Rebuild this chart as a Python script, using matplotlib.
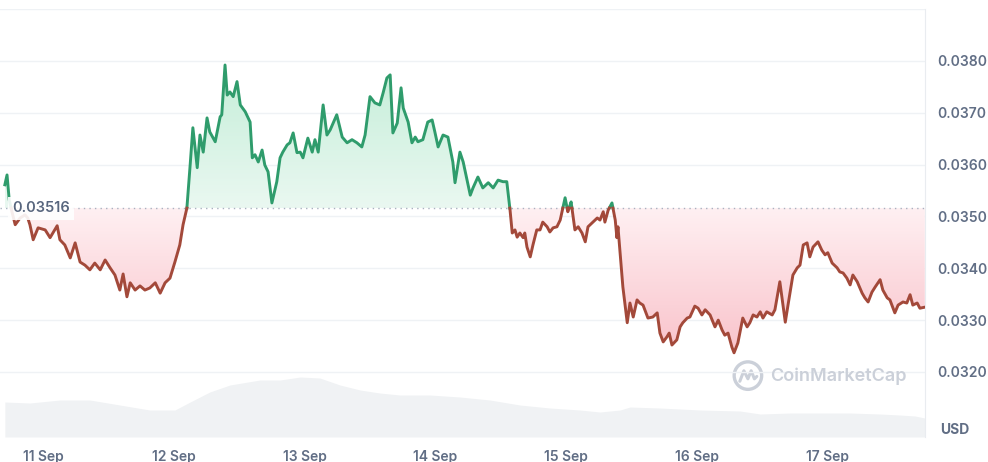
import numpy as np
import matplotlib.pyplot as plt
from matplotlib.colors import LinearSegmentedColormap
from matplotlib.patches import Circle

plt.rcParams['font.family'] = ['Inter', 'DejaVu Sans']

# price data: hours since 11 Sep 00:00 and price in USD
hours = [-7.0, -6.6, -6.2, -5.7, -5.1, -4.2, -3.3, -2.8, -2.4, -1.8, -0.9, 0.4, 1.3, 2.6, 3.1,
         4.0, 5.0, 5.9, 6.8, 7.7, 8.6, 9.5, 10.5, 11.4, 12.3, 13.2, 14.1, 14.7, 15.4, 16.0,
         16.9, 17.8, 18.7, 19.6, 20.6, 21.5, 22.4, 23.3, 24.2, 25.1, 25.7, 26.4, 27.0, 27.5,
         28.3, 28.8, 29.4, 30.1, 30.6, 31.6, 32.5, 32.8, 33.4, 33.8, 34.3, 34.9, 35.6, 36.2,
         37.1, 38.0, 38.4, 38.9, 39.5, 40.2, 40.7, 41.3, 42.0, 42.9, 43.5, 44.0, 44.8, 45.3,
         45.9, 46.6, 47.2, 47.7, 48.6, 49.4, 49.9, 50.5, 51.4, 52.1, 52.7, 53.9, 54.9, 55.8,
         56.7, 57.6, 58.5, 59.1, 60.0, 60.9, 61.8, 62.4, 63.1, 63.7, 64.2, 65.0, 65.7, 66.1,
         67.0, 67.7, 68.3, 68.8, 69.7, 70.6, 71.4, 71.9, 72.5, 73.4, 74.3, 75.2, 75.6, 76.5,
         77.1, 77.8, 78.4, 78.9, 79.8, 80.7, 81.7, 82.6, 83.5, 84.4, 85.1, 85.7, 86.1, 86.6,
         87.0, 87.5, 88.1, 88.4, 88.8, 89.4, 89.9, 90.6, 91.2, 91.7, 92.5, 93.0, 93.6, 94.3,
         94.9, 95.8, 96.3, 96.9, 97.6, 98.2, 98.9, 99.5, 100.0, 100.7, 101.7, 102.2, 102.8,
         103.1, 103.7, 104.4, 105.0, 105.3, 105.5, 106.1, 106.4, 107.2, 107.7, 108.3, 109.0,
         109.5, 110.1, 111.0, 111.9, 112.7, 113.2, 113.8, 114.5, 114.9, 115.4, 116.3, 116.9,
         117.4, 118.2, 118.7, 119.6, 120.2, 120.9, 121.5, 122.4, 123.3, 123.9, 124.6, 125.1,
         125.7, 126.4, 126.8, 127.5, 128.4, 129.2, 129.7, 130.3, 131.0, 131.6, 132.1, 132.8,
         133.8, 134.3, 135.2, 136.2, 136.7, 137.6, 138.4, 138.9, 139.5, 140.2, 140.7, 141.3,
         142.2, 142.9, 143.5, 144.0, 144.8, 145.7, 146.2, 146.8, 147.5, 148.1, 148.6, 149.4,
         150.3, 150.8, 151.4, 152.1, 152.7, 153.6, 154.1, 154.9, 155.4, 156.3, 156.9, 157.8,
         158.5, 159.1, 159.6, 160.4, 160.9, 161.8]
prices = [0.03561, 0.03580, 0.03532, 0.03509, 0.03484, 0.03497, 0.03503, 0.03497, 0.03484,
          0.03455, 0.03478, 0.03474, 0.03459, 0.03482, 0.03455, 0.03445, 0.03420, 0.03449,
          0.03412, 0.03406, 0.03397, 0.03410, 0.03397, 0.03416, 0.03401, 0.03387, 0.03358,
          0.03389, 0.03345, 0.03372, 0.03358, 0.03366, 0.03358, 0.03362, 0.03372, 0.03352,
          0.03372, 0.03381, 0.03412, 0.03445, 0.03484, 0.03516, 0.03599, 0.03671, 0.03594,
          0.03657, 0.03624, 0.03690, 0.03663, 0.03644, 0.03692, 0.03696, 0.03792, 0.03734,
          0.03740, 0.03731, 0.03760, 0.03715, 0.03702, 0.03682, 0.03613, 0.03619, 0.03605,
          0.03628, 0.03599, 0.03586, 0.03526, 0.03567, 0.03613, 0.03624, 0.03638, 0.03642,
          0.03661, 0.03623, 0.03624, 0.03613, 0.03651, 0.03624, 0.03648, 0.03624, 0.03715,
          0.03657, 0.03667, 0.03696, 0.03653, 0.03642, 0.03648, 0.03642, 0.03634, 0.03657,
          0.03731, 0.03719, 0.03715, 0.03738, 0.03767, 0.03773, 0.03661, 0.03680, 0.03748,
          0.03709, 0.03682, 0.03642, 0.03653, 0.03644, 0.03648, 0.03682, 0.03686, 0.03663,
          0.03634, 0.03657, 0.03653, 0.03605, 0.03565, 0.03624, 0.03605, 0.03570, 0.03541,
          0.03555, 0.03576, 0.03555, 0.03565, 0.03555, 0.03570, 0.03567, 0.03567, 0.03512,
          0.03468, 0.03474, 0.03460, 0.03468, 0.03459, 0.03468, 0.03441, 0.03422, 0.03445,
          0.03474, 0.03474, 0.03489, 0.03480, 0.03470, 0.03478, 0.03480, 0.03493, 0.03536,
          0.03509, 0.03528, 0.03474, 0.03480, 0.03468, 0.03451, 0.03480, 0.03487, 0.03497,
          0.03493, 0.03509, 0.03489, 0.03512, 0.03526, 0.03493, 0.03459, 0.03480, 0.03403,
          0.03364, 0.03295, 0.03333, 0.03306, 0.03339, 0.03333, 0.03329, 0.03304, 0.03306,
          0.03314, 0.03275, 0.03258, 0.03268, 0.03275, 0.03252, 0.03262, 0.03287, 0.03295,
          0.03304, 0.03306, 0.03327, 0.03323, 0.03310, 0.03320, 0.03310, 0.03287, 0.03300,
          0.03281, 0.03271, 0.03275, 0.03248, 0.03237, 0.03256, 0.03304, 0.03287, 0.03295,
          0.03310, 0.03306, 0.03316, 0.03304, 0.03316, 0.03310, 0.03320, 0.03374, 0.03296,
          0.03329, 0.03387, 0.03401, 0.03406, 0.03445, 0.03449, 0.03422, 0.03441, 0.03451,
          0.03435, 0.03426, 0.03430, 0.03410, 0.03401, 0.03393, 0.03391, 0.03381, 0.03368,
          0.03387, 0.03374, 0.03352, 0.03343, 0.03335, 0.03354, 0.03364, 0.03378, 0.03358,
          0.03343, 0.03339, 0.03314, 0.03329, 0.03335, 0.03333, 0.03349, 0.03329, 0.03333,
          0.03323, 0.03325]
base_price = 0.03516

# volume (relative, millions)
vol_hours = [-7.0, -2.4, 3.1, 8.6, 14.1, 19.6, 24.2, 27.0, 30.6, 34.3, 39.8, 43.5, 47.2, 50.8,
             54.5, 58.2, 61.8, 65.5, 71.0, 76.5, 82.0, 87.5, 93.0, 98.5, 102.2, 105.9, 107.7,
             113.2, 120.6, 127.9, 131.6, 137.1, 142.6, 148.1, 153.6, 157.2, 160.0, 161.8]
volume = [35, 34, 37, 37, 32, 27, 27, 35, 45, 52, 57, 57, 60, 59, 52, 47, 44, 42, 42, 40, 37,
          32, 29, 27, 25, 27, 30, 29, 27, 26, 23, 24, 24, 24, 23, 22, 21, 19]

day_ticks = [0, 24, 48, 72, 96, 120, 144]
day_labels = ['11 Sep', '12 Sep', '13 Sep', '14 Sep', '15 Sep', '16 Sep', '17 Sep']
price_ticks = [0.0320, 0.0330, 0.0340, 0.0350, 0.0360, 0.0370, 0.0380, 0.0390]

GREEN = '#2f9c6c'
RED = '#a3493a'
TXT = '#616e85'


def split_at_base(t, p, base):
    tt, pp = [t[0]], [p[0]]
    for i in range(1, len(t)):
        if (p[i - 1] - base) * (p[i] - base) < 0:
            f = (base - p[i - 1]) / (p[i] - p[i - 1])
            tt.append(t[i - 1] + f * (t[i] - t[i - 1]))
            pp.append(base)
        tt.append(t[i])
        pp.append(p[i])
    return np.array(tt), np.array(pp)


def gradient_fill(ax, t, lo, hi, y0, y1, c0, c1):
    poly = ax.fill_between(t, lo, hi, color='none', lw=0)
    cmap = LinearSegmentedColormap.from_list('grad', [c0, c1])
    grad = np.linspace(0, 1, 256).reshape(-1, 1)
    im = ax.imshow(grad, aspect='auto', cmap=cmap, origin='lower',
                   extent=[t[0], t[-1], y0, y1], zorder=1)
    im.set_clip_path(poly.get_paths()[0], transform=ax.transData)


fig = plt.figure(figsize=(9.88, 4.62), dpi=100)
ax = fig.add_axes([0.0, 0.0541, 0.9362, 0.9264])

# volume underneath
axv = ax.twinx()
axv.fill_between(vol_hours, 0, volume, color='#f0f2f4', lw=0)
axv.set_ylim(0, 428)
axv.axis('off')
ax.set_zorder(axv.get_zorder() + 1)
ax.patch.set_visible(False)

t, p = split_at_base(np.array(hours), np.array(prices), base_price)

gradient_fill(ax, t, base_price, np.maximum(p, base_price),
              base_price, max(prices), '#eaf8f1', '#c4eed8')
gradient_fill(ax, t, np.minimum(p, base_price), base_price,
              min(prices), base_price, '#f9c3cb', '#fff0f2')

ax.plot(t, np.where(p >= base_price, p, np.nan), color=GREEN, lw=2.1, zorder=3,
        solid_joinstyle='round')
ax.plot(t, np.where(p <= base_price, p, np.nan), color=RED, lw=2.1, zorder=3,
        solid_joinstyle='round')

ax.axhline(base_price, color='#a9b1c0', lw=1, ls=(0, (1, 3)), zorder=2)
ax.text(0.013, base_price, '0.03516', transform=ax.get_yaxis_transform(),
        ha='left', va='center', fontsize=10.5, color='#58667e', zorder=5,
        fontweight='semibold',
        bbox=dict(boxstyle='square,pad=0.3', fc='white', ec='none', alpha=0.9))

ax.set_xlim(-7.89, 161.83)
ax.set_ylim(0.030746, 0.0390)

ax.set_xticks(day_ticks)
ax.set_xticklabels(day_labels)
ax.set_yticks(price_ticks)
ax.set_yticklabels([f'{v:.4f}' if v < 0.0385 else '' for v in price_ticks])
ax.yaxis.tick_right()
ax.tick_params(axis='both', length=0, labelsize=10, colors=TXT)
ax.tick_params(axis='x', pad=9)
ax.tick_params(axis='y', pad=9)
for lbl in ax.get_xticklabels() + ax.get_yticklabels():
    lbl.set_fontweight('semibold')
ax.grid(axis='y', color='#eff2f5', lw=1)
ax.set_axisbelow(True)
for s in ['left', 'top', 'bottom']:
    ax.spines[s].set_visible(False)
ax.spines['right'].set_color('#e9ecf0')

fig.text(0.952, 0.069, 'USD', fontsize=10, color=TXT, fontweight='bold',
         ha='left', va='center')

# watermark
fig.text(0.779, 0.186, 'CoinMarketCap', fontsize=13, color='#cbd0d9',
         fontweight='semibold', ha='left', va='center')
lax = fig.add_axes([0.739, 0.152, 0.036, 0.07])
lax.set_xlim(-1, 1)
lax.set_ylim(-1, 1)
lax.set_aspect('equal')
lax.axis('off')
lax.add_patch(Circle((0, 0), 0.85, fill=False, ec='#cbd0d9', lw=2.4))
lax.plot([-0.5, -0.25, 0.0, 0.2, 0.4, 0.55], [-0.35, 0.3, -0.2, 0.3, -0.2, -0.05],
         color='#cbd0d9', lw=2.2, solid_capstyle='round', solid_joinstyle='round')

plt.savefig('out.png', dpi=100)
